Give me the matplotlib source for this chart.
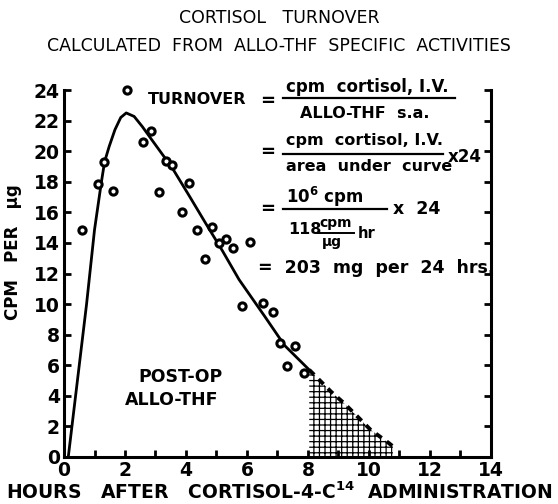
import numpy as np
import matplotlib.pyplot as plt
from matplotlib.lines import Line2D

# measured allo-THF specific activities (hours, cpm per ug)
pts_hours = [0.58, 1.13, 1.31, 1.62, 2.07, 2.59, 2.84, 3.11, 3.33, 3.53, 3.86, 4.11, 4.35,
             4.62, 4.85, 5.08, 5.31, 5.55, 5.82, 6.09, 6.53, 6.84, 7.07, 7.32, 7.58, 7.87]
pts_cpm = [14.85, 17.88, 19.3, 17.4, 24.0, 20.6, 21.33, 17.34, 19.34, 19.1, 16.0, 17.95, 14.83,
           12.93, 15.07, 14.02, 14.24, 13.69, 9.87, 14.03, 10.04, 9.5, 7.48, 5.93, 7.28, 5.5]

# hand drawn fitted curve
curve_x = [0.14, 0.74, 1.0, 1.22, 1.33, 1.48, 1.67, 1.86, 2.04, 2.3, 2.57, 2.84, 3.55,
           4.1, 4.64, 5.19, 5.74, 6.58, 7.23, 8.04]
curve_y = [0.0, 10.0, 14.85, 17.9, 19.3, 20.3, 21.4, 22.2, 22.5, 22.27, 21.6, 20.85, 18.9,
           17.1, 15.3, 13.5, 11.6, 9.2, 7.3, 5.7]

# extrapolated tail (dashed, hatched area)
tail_x = [8.04, 8.75, 9.18, 9.62, 10.05, 10.65, 10.78]
tail_y = [5.7, 4.28, 3.52, 2.65, 1.78, 0.91, 0.7]

x_ticks = [0, 2, 4, 6, 8, 10, 12, 14]
y_ticks = [0, 2, 4, 6, 8, 10, 12, 14, 16, 18, 20, 22, 24]

W, H = 558, 504
plt.rcParams['hatch.linewidth'] = 0.9
fig = plt.figure(figsize=(W / 100, H / 100), dpi=100)
ax = fig.add_axes([64 / W, 1 - 457 / H, 427 / W, 367 / H])

ax.fill_between(tail_x, 0, tail_y, facecolor='white', edgecolor='black', hatch='+++', linewidth=0)
ax.plot(tail_x, tail_y, color='black', lw=2.8, linestyle=(0, (1.8, 1.6)))
ax.plot(curve_x, curve_y, color='black', lw=2.0)
ax.plot(pts_hours, pts_cpm, 'o', ms=5.2, mfc='white', mec='black', mew=2.2, clip_on=False)

ax.set_xlim(0, 14)
ax.set_ylim(0, 24)
ax.set_xticks(x_ticks)
ax.set_xticks(range(1, 14, 2), minor=True)
ax.set_yticks(y_ticks)
ax.spines['top'].set_visible(False)
for s in ['left', 'right', 'bottom']:
    ax.spines[s].set_linewidth(2.2)
ax.tick_params(axis='both', which='both', direction='in', width=2, length=5,
               right=True, labelright=False)
ax.tick_params(axis='both', labelsize=13.5, pad=3)
for lab in ax.get_xticklabels() + ax.get_yticklabels():
    lab.set_fontweight('bold')

def T(x, y, s, size=12, ha='left', weight='bold', **kw):
    fig.text(x / W, 1 - y / H, s, size=size, ha=ha, va='center', weight=weight, **kw)

def bar(x0, x1, y, lw=1.6):
    fig.add_artist(Line2D([x0 / W, x1 / W], [1 - y / H, 1 - y / H], color='black', lw=lw))

# titles
T(279, 18, 'CORTISOL   TURNOVER', size=12.5, ha='center', weight='normal')
T(279, 46, 'CALCULATED  FROM  ALLO-THF  SPECIFIC  ACTIVITIES', size=12.5, ha='center', weight='normal')

# formula
T(148, 100, 'TURNOVER', size=11.5)
T(260, 101, '=', size=13)
T(286, 87, 'cpm  cortisol, I.V.', size=12)
bar(283, 455, 98)
T(300, 113, 'ALLO-THF  s.a.', size=11.5)

T(260, 152, '=', size=13)
T(286, 140, 'cpm  cortisol, I.V.', size=11.5)
bar(283, 443, 154)
T(286, 167, 'area  under  curve', size=11.5)
T(448, 157, 'x24', size=12)

T(260, 209, '=', size=13)
T(286, 197, r'10$^{\mathbf{6}}$ cpm', size=12)
bar(283, 387, 209)
T(288, 230, '118', size=11.5)
T(319, 223, 'cpm', size=10)
bar(318, 354, 233, lw=1.4)
T(322, 242, 'µg', size=10)
T(358, 233, 'hr', size=10.5)
T(393, 209, 'x  24', size=12.5)

T(258, 268, '=  203  mg  per  24  hrs.', size=12.5)

# inner label
T(181, 377, 'POST-OP', size=12.5, ha='center')
T(172, 400, 'ALLO-THF', size=12.5, ha='center')

# axis labels
fig.text(13 / W, 1 - 252 / H, 'CPM   PER   µg', size=12, weight='bold', rotation=90,
         ha='center', va='center')
T(279, 492, r'HOURS   AFTER   CORTISOL-4-C$^{\mathbf{14}}$  ADMINISTRATION', size=13.5, ha='center')

fig.savefig('out.png', dpi=100)
